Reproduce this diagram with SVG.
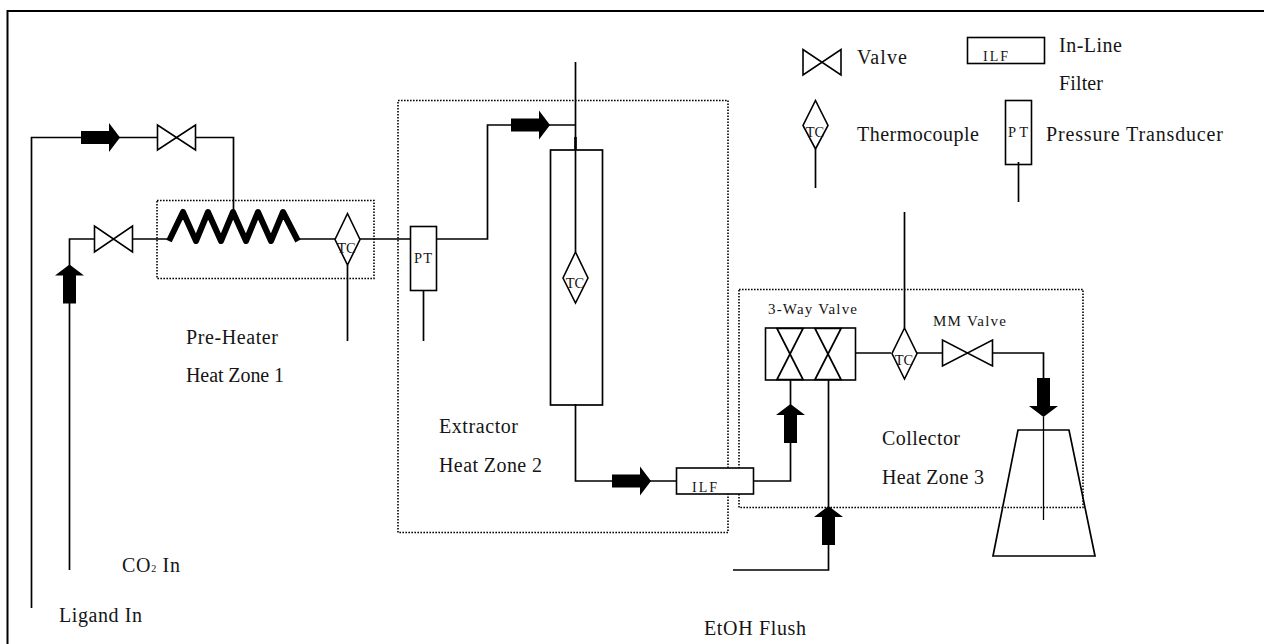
<svg xmlns="http://www.w3.org/2000/svg" width="1264" height="644" viewBox="0 0 1264 644">
<defs>
<style>
.p{fill:none;stroke:#000;stroke-width:1.7}
.s{fill:#fff;stroke:#000;stroke-width:1.6}
.d{fill:none;stroke:#000;stroke-width:1.6;stroke-dasharray:1.6 1.4}
.a{fill:#000;stroke:none}
text{font-family:"Liberation Serif","Times New Roman",serif;fill:#151515}
.l{font-size:20px}
.m{font-size:15px}
.t{font-size:14.500px}
.f{font-size:14px}
</style>
<path id="ar" d="M0-6.500H28V-14.500L39 0 28 14.500V6.500H0Z"/>
</defs>
<rect width="1264" height="644" fill="#fff"/>
<path d="M7.500 644V11H1264" fill="none" stroke="#000" stroke-width="2"/>
<g id="zones">
<rect class="d" x="157" y="200.500" width="217" height="78"/>
<rect class="d" x="398" y="100.500" width="330" height="432"/>
<rect class="d" x="739" y="289.500" width="344" height="218"/>
</g>
<g id="connectors">
<path class="p" d="M31.500 608V137.500H157M196 137.500H233.500V212"/>
<path class="p" d="M69.500 570V239H94M132 239H170M297 239H335M360 239H410M436 239H487.500V125H575"/>
<path class="p" d="M347.500 265V341M423.500 289V341"/>
<path class="p" d="M575.500 62V252M575.500 404V481H676M752 481H790.500V380"/>
<path class="p" d="M828.500 380V570H733M853 353H891M917 353H942M993 353H1043.500V380M904.500 212V328"/>
<path class="p" style="stroke-width:2.600" d="M575.500 137V150"/>
</g>
<g id="flow-arrows" class="a">
<use href="#ar" transform="translate(81 137.500)"/>
<use href="#ar" transform="translate(69.500 303.500) rotate(-90)"/>
<use href="#ar" transform="translate(511 125)"/>
<use href="#ar" transform="translate(612 481)"/>
<use href="#ar" transform="translate(790.500 443) rotate(-90)"/>
<use href="#ar" transform="translate(828.500 545) rotate(-90)"/>
<use href="#ar" transform="translate(1043.500 378) rotate(90)"/>
</g>
<g id="valve-ligand"><path class="s" d="M157.500 125V150L195.500 125V150Z"/></g>
<g id="valve-co2"><path class="s" d="M94.500 226V252L132.500 226V252Z"/></g>
<g id="heater"><path fill="none" stroke="#000" stroke-width="6" stroke-linejoin="round" d="M169 241L183 212 196 241 208 212 221 241 233 212 246 241 258 212 271 241 283 212 298 241"/></g>
<g id="tc-heater"><path class="s" d="M347.500 213.500L360 239.500 347.500 265 335 239.500Z"/><text class="t" x="346.500" y="253" text-anchor="middle">TC</text></g>
<g id="pt-main"><rect class="s" x="410.500" y="226.500" width="26" height="64"/><text class="t" x="414" y="263" textLength="18">PT</text></g>
<g id="extractor"><rect x="550.500" y="150" width="52" height="255" class="p"/></g>
<g id="tc-extractor"><path class="s" d="M575.500 252L588 278 575.500 303 563 278Z"/><text class="t" x="575" y="288" text-anchor="middle">TC</text></g>
<g id="ilf-main"><rect class="s" x="676.500" y="468" width="77" height="26"/><text class="f" x="692" y="492" textLength="25">ILF</text></g>
<g id="three-way"><rect class="s" x="765.500" y="328" width="90" height="52"/><path class="p" d="M777 328.500H803L777 379.500H803ZM815 328.500H841L815 379.500H841Z"/></g>
<g id="tc-collector"><path class="s" d="M904.500 328L917 353.500 904.500 379 892 353.500Z"/><text class="t" x="904" y="365" text-anchor="middle">TC</text></g>
<g id="valve-mm"><path class="s" d="M942.500 340V366L992.500 340V366Z"/></g>
<g id="flask"><path class="p" d="M1018 430H1069L1095 556H993Z"/><path class="p" style="stroke-width:1.300" d="M1043.500 417V520"/></g>
<g id="legend">
<path class="s" d="M803 49.500V75L841 49.500V75Z"/>
<rect class="s" x="967.500" y="37.500" width="77" height="26"/><text class="f" x="983" y="61" textLength="25">ILF</text>
<path class="s" d="M815.500 100.500L828 125.500 815.500 149 803 125.500Z"/><text class="t" x="815" y="137" text-anchor="middle">TC</text><path class="p" d="M815.500 149V188"/>
<rect class="s" x="1005.500" y="100.500" width="26" height="64"/><text class="t" x="1008" y="137" textLength="20">PT</text><path class="p" d="M1018.500 162V202"/>
</g>
<g id="labels">
<text class="l" x="857" y="64" textLength="50">Valve</text>
<text class="l" x="1059" y="52" textLength="63">In-Line</text>
<text class="l" x="1059" y="90" textLength="44">Filter</text>
<text class="l" x="857" y="141" textLength="122">Thermocouple</text>
<text class="l" x="1046" y="141" textLength="177">Pressure Transducer</text>
<text class="l" x="186" y="344" textLength="92">Pre-Heater</text>
<text class="l" x="186" y="382" textLength="98">Heat Zone 1</text>
<text class="l" x="439" y="433" textLength="79">Extractor</text>
<text class="l" x="439" y="472" textLength="103">Heat Zone 2</text>
<text class="l" x="882" y="445" textLength="78">Collector</text>
<text class="l" x="882" y="484" textLength="102">Heat Zone 3</text>
<text class="m" x="768" y="314" textLength="89">3-Way Valve</text>
<text class="m" x="933" y="326" textLength="73">MM Valve</text>
<text class="l" x="122" y="572" textLength="58">CO<tspan font-size="10">2</tspan> In</text>
<text class="l" x="59" y="622" textLength="83">Ligand In</text>
<text class="l" x="704" y="635" textLength="102">EtOH Flush</text>
</g>
</svg>
